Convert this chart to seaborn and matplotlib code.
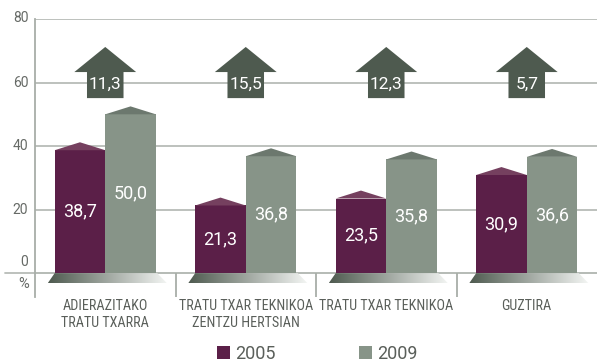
import numpy as np
import pandas as pd
import seaborn as sns
import matplotlib
matplotlib.use("Agg")
import matplotlib.pyplot as plt
from matplotlib import font_manager
from matplotlib.patches import Polygon, Patch
from matplotlib.transforms import blended_transform_factory
from matplotlib.colors import LinearSegmentedColormap

# --- data ---------------------------------------------------------------
categories = ["ADIERAZITAKO\nTRATU TXARRA",
              "TRATU TXAR TEKNIKOA\nZENTZU HERTSIAN",
              "TRATU TXAR TEKNIKOA",
              "GUZTIRA"]
years = ["2005", "2009"]
values_2005 = [38.7, 21.3, 23.5, 30.9]
values_2009 = [50.0, 36.8, 35.8, 36.6]
y_ticks = [0, 20, 40, 60, 80]

# --- style ----------------------------------------------------------------
sns.set_theme(style="white")
installed = {f.name for f in font_manager.fontManager.ttflist}
narrow = next((n for n in ["Liberation Sans Narrow", "Roboto Condensed",
                           "Open Sans Condensed", "Roboto"] if n in installed),
              "DejaVu Sans")
plt.rcParams["font.family"] = ["Roboto", "DejaVu Sans"]

PURPLE = "#5b1f48"
PURPLE_CAP = "#75405f"
GRAY = "#879488"
GRAY_CAP = "#6c786e"
ARROW = "#4e5a4f"
GRID = "#b7bcb7"
TEXT = "#5a5f5a"

def fmt(v):
    return f"{v:.1f}".replace(".", ",")

df = pd.DataFrame({
    "cat": categories * 2,
    "year": [years[0]] * 4 + [years[1]] * 4,
    "value": values_2005 + values_2009,
})

fig = plt.figure(figsize=(5.97, 3.62), dpi=100)
ax = fig.add_axes([35 / 597, 65 / 362, 562 / 597, 278 / 362])

sns.barplot(data=df, x="cat", y="value", hue="year", order=categories,
            hue_order=years, palette=[PURPLE, GRAY], saturation=1,
            width=0.72, ax=ax, legend=False, zorder=3, linewidth=0)

bars = list(ax.patches)

# roof caps and value labels inside the bars
for p in bars:
    x, w, h = p.get_x(), p.get_width(), p.get_height()
    fc = p.get_facecolor()
    cap = PURPLE_CAP if fc[0] > fc[1] else GRAY_CAP
    ax.add_patch(Polygon([(x, h), (x + w / 2, h + 2.5), (x + w, h)],
                         closed=True, facecolor=cap, edgecolor="none", zorder=3))
    ax.text(x + w / 2, h / 2, fmt(h), ha="center", va="center",
            color="white", fontsize=13, zorder=4)

# gradient plinth under each group
grad = LinearSegmentedColormap.from_list("plinth", [ARROW, "#f4f6f4"])
for i in range(len(categories)):
    poly = Polygon([(i - 0.36, 0), (i + 0.37, 0), (i + 0.44, -3.2), (i - 0.41, -3.2)],
                   closed=True, transform=ax.transData)
    im = ax.imshow(np.linspace(0, 1, 256)[None, :], cmap=grad, aspect="auto",
                   extent=[i - 0.41, i + 0.44, -3.2, 0], zorder=2)
    im.set_clip_path(poly)

# change arrows above each group
for i, (a, b) in enumerate(zip(values_2005, values_2009)):
    hw, sw = 0.22, 0.13
    arrow = [(i, 71.2), (i + hw, 63.3), (i + sw, 63.3), (i + sw, 55.1),
             (i - sw, 55.1), (i - sw, 63.3), (i - hw, 63.3)]
    ax.add_patch(Polygon(arrow, closed=True, facecolor=ARROW,
                         edgecolor="none", zorder=4))
    ax.text(i, 59.3, fmt(b - a), ha="center", va="center", color="white",
            fontsize=12.5, zorder=5)

# axes, grid and separators
ax.set_xlim(-0.5, 3.5)
ax.set_ylim(-7.5, 80)
ax.set_yticks(y_ticks)
ax.set_yticklabels([])
ax.yaxis.grid(True, color=GRID, lw=1.3, zorder=0)
ax.set_axisbelow(True)
ax.axhline(0, xmin=-30 / 562, xmax=1, color=GRID, lw=1.3, clip_on=False, zorder=1)
ax.vlines([0.5, 1.5, 2.5], -7.5, 0, color="#a8aea8", lw=1.3, zorder=1)
for s in ["top", "right", "bottom"]:
    ax.spines[s].set_visible(False)
ax.spines["left"].set_color("#a8aea8")
ax.spines["left"].set_linewidth(1.3)
ax.tick_params(axis="both", length=0)

tr = blended_transform_factory(ax.transAxes, ax.transData)
label_y = {0: 3.5, 20: 20, 40: 40, 60: 60, 80: 80.4}
for t in y_ticks:
    ax.text(-0.012, label_y[t], str(t), transform=tr, ha="right", va="center",
            fontsize=10, color="#666a66")
ax.text(-0.021, -3.4, "%", transform=tr, ha="center", va="center",
        fontsize=10.5, color="#666a66")

ax.set_xticks(range(len(categories)))
ax.set_xticklabels(categories, fontsize=10.2, color=TEXT, family=[narrow, "DejaVu Sans"],
                   linespacing=1.25)
ax.tick_params(axis="x", pad=1.5)
ax.set_xlabel("")
ax.set_ylabel("")

handles = [Patch(facecolor=PURPLE, edgecolor="none"),
           Patch(facecolor=GRAY, edgecolor="none")]
fig.legend(handles, years, loc="center", bbox_to_anchor=(0.532, 0.022), ncol=2,
           frameon=False, fontsize=13, handlelength=0.72, handleheight=0.72,
           handletextpad=0.3, columnspacing=4.6, labelcolor=TEXT,
           borderaxespad=0, borderpad=0)

fig.savefig("out.png", dpi=100)
